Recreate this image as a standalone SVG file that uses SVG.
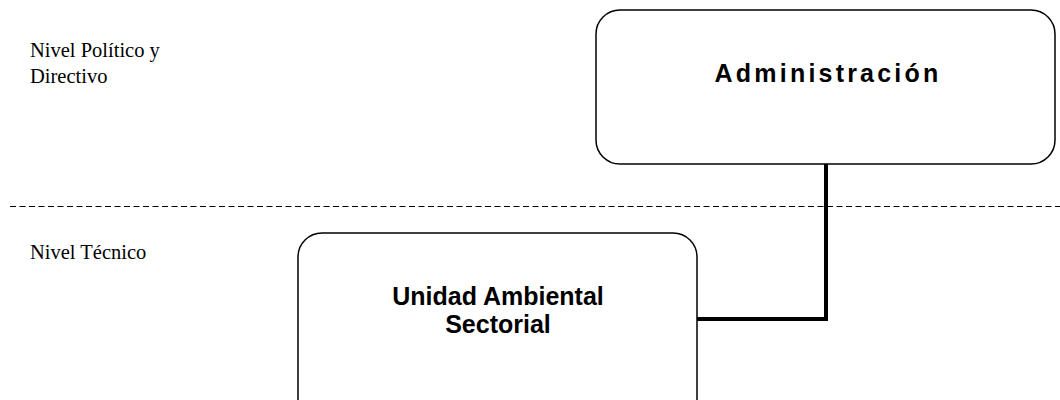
<svg xmlns="http://www.w3.org/2000/svg" width="1060" height="400" viewBox="0 0 1060 400">
<style>
.box{fill:#fff;stroke:#000;stroke-width:1.5}
.lbl{font-family:"Liberation Serif",serif;font-size:20.5px;fill:#000}
.title{font-family:"Liberation Sans",Arial,sans-serif;font-weight:bold;fill:#000;text-anchor:middle;font-size:25px}
.conn{fill:none;stroke:#000;stroke-width:4}
.dash{stroke:#000;stroke-width:1;stroke-dasharray:6 3.5}
</style>
<rect width="1060" height="400" fill="#fff"/>
<g id="levels">
<line class="dash" x1="10" y1="206.5" x2="1060" y2="206.5"/>
<text class="lbl" x="30" y="57">Nivel Político y</text>
<text class="lbl" x="30" y="83">Directivo</text>
<text class="lbl" x="30" y="259">Nivel Técnico</text>
</g>
<g id="connectors">
<polyline class="conn" points="826,164 826,319 697,319"/>
</g>
<g id="admin">
<rect class="box" x="596" y="10" width="459" height="154" rx="24" ry="24"/>
<text class="title" x="828" y="82" letter-spacing="3.2">Administración</text>
</g>
<g id="uas">
<rect class="box" x="298" y="233" width="399" height="190" rx="24" ry="24"/>
<text class="title" x="498" y="305">Unidad Ambiental</text>
<text class="title" x="498" y="333">Sectorial</text>
</g>
</svg>
